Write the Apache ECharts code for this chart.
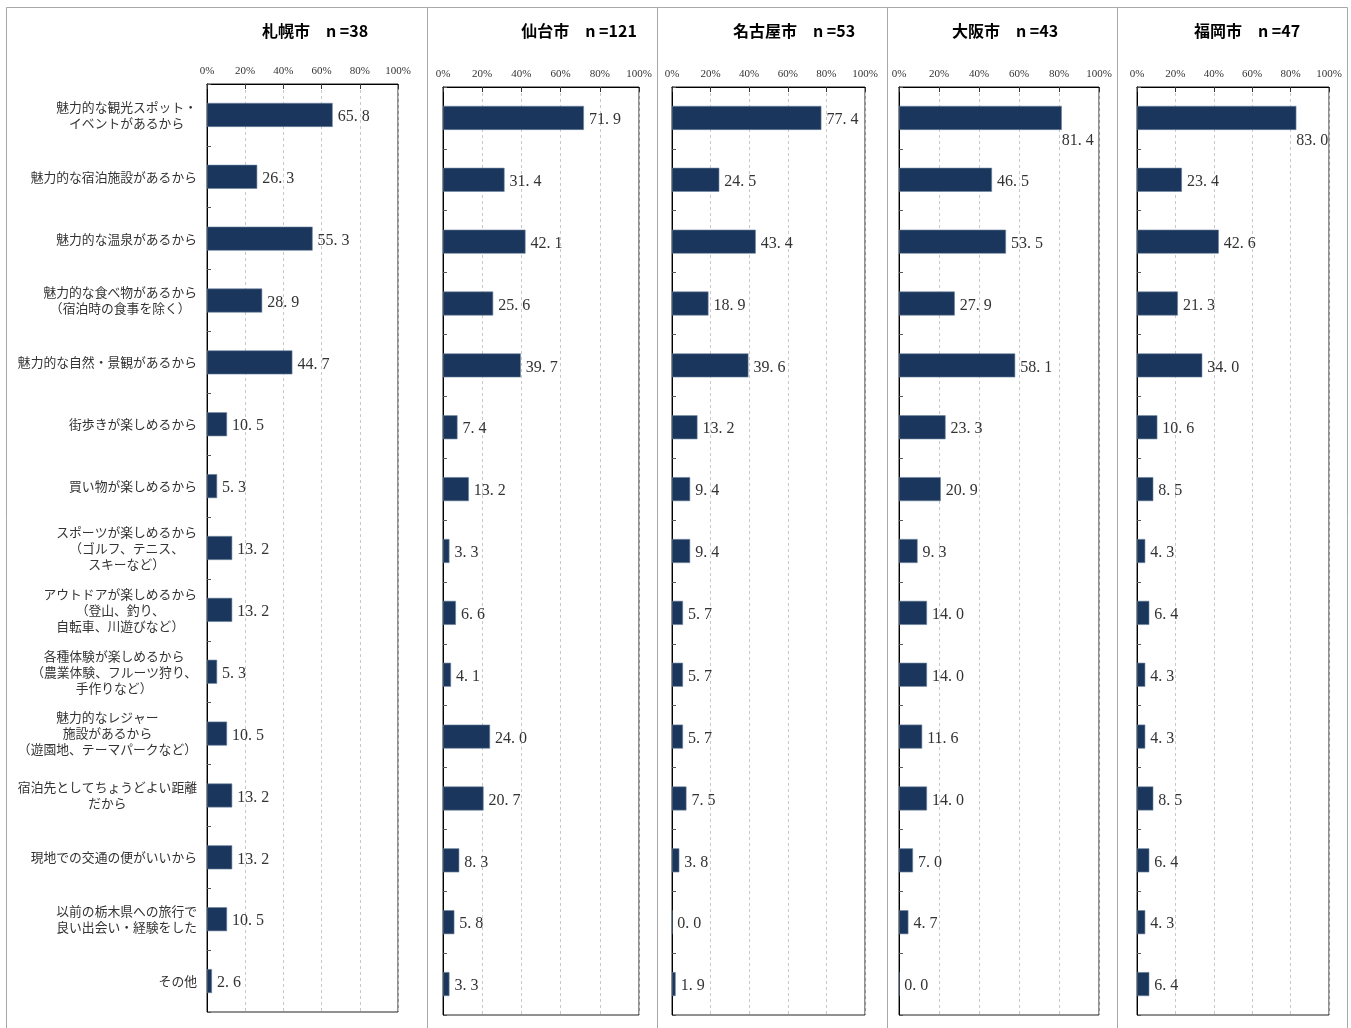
<!DOCTYPE html>
<html><head><meta charset="utf-8">
<script src="https://cdn.jsdelivr.net/npm/echarts@6/dist/echarts.min.js"></script>
<style>html,body{margin:0;padding:0;background:#fff}#c{width:1351px;height:1028px}</style>
</head><body><div id="c"></div>
<script>
const categories = [
  '魅力的な観光スポット・\nイベントがあるから',
  '魅力的な宿泊施設があるから',
  '魅力的な温泉があるから',
  '魅力的な食べ物があるから\n（宿泊時の食事を除く）',
  '魅力的な自然・景観があるから',
  '街歩きが楽しめるから',
  '買い物が楽しめるから',
  'スポーツが楽しめるから\n（ゴルフ、テニス、\nスキーなど）',
  'アウトドアが楽しめるから\n（登山、釣り、\n自転車、川遊びなど）',
  '各種体験が楽しめるから\n（農業体験、フルーツ狩り、\n手作りなど）',
  '魅力的なレジャー\n施設があるから\n（遊園地、テーマパークなど）',
  '宿泊先としてちょうどよい距離\nだから',
  '現地での交通の便がいいから',
  '以前の栃木県への旅行で\n良い出会い・経験をした',
  'その他'
];
const cities = ['札幌市', '仙台市', '名古屋市', '大阪市', '福岡市'];
const sampleSizes = [38, 121, 53, 43, 47];
const sapporo = [65.8, 26.3, 55.3, 28.9, 44.7, 10.5, 5.3, 13.2, 13.2, 5.3, 10.5, 13.2, 13.2, 10.5, 2.6];
const sendai  = [71.9, 31.4, 42.1, 25.6, 39.7, 7.4, 13.2, 3.3, 6.6, 4.1, 24.0, 20.7, 8.3, 5.8, 3.3];
const nagoya  = [77.4, 24.5, 43.4, 18.9, 39.6, 13.2, 9.4, 9.4, 5.7, 5.7, 5.7, 7.5, 3.8, 0.0, 1.9];
const osaka   = [81.4, 46.5, 53.5, 27.9, 58.1, 23.3, 20.9, 9.3, 14.0, 14.0, 11.6, 14.0, 7.0, 4.7, 0.0];
const fukuoka = [83.0, 23.4, 42.6, 21.3, 34.0, 10.6, 8.5, 4.3, 6.4, 4.3, 4.3, 8.5, 6.4, 4.3, 6.4];
const seriesValues = [sapporo, sendai, nagoya, osaka, fukuoka];
const axisMax = 100, axisInterval = 20;

// layout (style only)
const grids = [
  {left: 207, top: 84, width: 191, height: 928},
  {left: 443, top: 87, width: 196, height: 928},
  {left: 672, top: 87, width: 193, height: 928},
  {left: 899, top: 87, width: 200, height: 928},
  {left: 1137, top: 87, width: 192, height: 928}
];
const titleCenters = [310, 574, 789, 1000, 1242];
const frames = [[6.5, 427.5], [427.5, 657.5], [657.5, 887.5], [887.5, 1117.5], [1117.5, 1347.5]];

const SERIF = '"Liberation Serif","DejaVu Serif",serif';
const JP = '"Noto Sans CJK JP","Noto Sans",sans-serif';
const BAR = '#1b365c';

const option = {
  animation: false,
  backgroundColor: '#fff',
  title: cities.map((c, i) => ({
    text: c + '　n =' + sampleSizes[i],
    left: titleCenters[i], top: 18, textAlign: 'center',
    textStyle: {fontFamily: JP, fontWeight: 'bold', fontSize: 16, color: '#000'}
  })),
  graphic: frames.map(f => ({
    type: 'rect', silent: true, z: -10,
    shape: {x: f[0], y: 7.5, width: f[1] - f[0], height: 1040},
    style: {fill: 'none', stroke: '#a8a8a8', lineWidth: 1}
  })),
  grid: grids.map(g => Object.assign({show: true, borderColor: '#222', borderWidth: 1, backgroundColor: 'transparent'}, g)),
  xAxis: grids.map((g, i) => ({
    gridIndex: i, type: 'value', position: 'top', min: 0, max: axisMax, interval: axisInterval,
    axisLine: {show: true, lineStyle: {color: '#000', width: 1}},
    axisTick: {show: true, inside: true, length: 5, lineStyle: {color: '#333'}},
    axisLabel: {formatter: '{value}%', fontFamily: SERIF, fontSize: 11, color: '#333', margin: 7},
    splitLine: {show: true, lineStyle: {color: '#c8c8c8', type: [3, 3], width: 1}}
  })),
  yAxis: grids.map((g, i) => ({
    gridIndex: i, type: 'category', inverse: true, data: categories,
    axisLine: {show: true, lineStyle: {color: '#000', width: 1}},
    axisTick: {show: true, inside: true, length: 4, lineStyle: {color: '#555'}},
    splitLine: {show: false},
    axisLabel: i === 0 ? {
      show: true, margin: 10, align: 'right',
      formatter: v => v.split('\n').map(l => '{c|' + l + '}').join('\n'),
      rich: {c: {align: 'center', fontFamily: JP, fontSize: 12.8, lineHeight: 16, color: '#333'}}
    } : {show: false}
  })),
  series: seriesValues.map((vals, i) => ({
    type: 'bar', xAxisIndex: i, yAxisIndex: i, barWidth: 24,
    itemStyle: {color: BAR, borderColor: '#6f84a0', borderWidth: 0.6},
    label: {
      show: true, position: 'right', distance: 5, offset: [0, 2],
      formatter: p => {
        const s = Number(p.value).toFixed(1).split('.');
        return '{n|' + s[0] + '}{d|.}{n|' + s[1] + '}';
      },
      rich: {
        n: {fontFamily: SERIF, fontSize: 16, color: '#333'},
        d: {fontFamily: SERIF, fontSize: 16, color: '#333', width: 8}
      }
    },
    data: vals.map(v => v > 80 ? {value: v, label: {offset: [-5, 23]}} : v)
  }))
};

const chart = echarts.init(document.getElementById('c'), null, {renderer: 'canvas'});
chart.setOption(option);
</script>
</body></html>
